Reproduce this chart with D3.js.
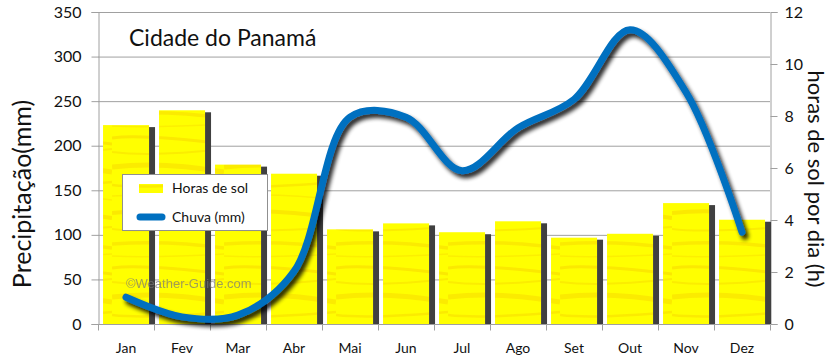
<!DOCTYPE html>
<html><head><meta charset="utf-8">
<script src="https://cdn.jsdelivr.net/npm/d3@7"></script>
<style>body{margin:0;background:#fff}svg{display:block}</style>
</head><body><svg id="c" width="840" height="360"></svg>
<script>
const months=["Jan","Fev","Mar","Abr","Mai","Jun","Jul","Ago","Set","Out","Nov","Dez"];
const sunHours=[7.65,8.22,6.13,5.78,3.64,3.87,3.53,3.95,3.32,3.47,4.65,4.01];
const rainMm=[30,8,10,59,232,232,172,220,252,330,260,103];
const leftTicks=[0,50,100,150,200,250,300,350];
const rightTicks=[0,2,4,6,8,10,12];
const title="Cidade do Panamá";
const leftTitle="Precipitação(mm)";
const rightTitle="horas de sol por dia (h)";
const legendLabels=["Horas de sol","Chuva (mm)"];
const watermark="©Weather-Guide.com";

const FONT="Lato, 'Noto Sans', sans-serif";
const svg=d3.select("#c");
const L=98,R=770,T=12,B=324;
const x=d3.scaleBand().domain(months).range([L,R]).padding(0);
const yL=d3.scaleLinear().domain([0,350]).range([B,T]);
const yR=d3.scaleLinear().domain([0,12]).range([B,T]);
const bw=x.bandwidth();

const defs=svg.append("defs");
const pat=defs.append("pattern").attr("id","tex").attr("patternUnits","userSpaceOnUse")
  .attr("width",112).attr("height",130);
pat.append("rect").attr("width",112).attr("height",130).attr("fill","#ffff00");
[["M0 8 Q30 4 112 14",3,0.28],["M0 22 Q40 27 112 19",2,0.22],["M0 37 Q50 31 112 42",5,0.25],
 ["M0 55 Q35 59 112 52",2.5,0.25],["M0 66 Q60 63 112 70",1.5,0.2],["M0 83 Q45 78 112 88",4,0.28],
 ["M0 99 Q30 103 112 97",2,0.22],["M0 114 Q55 110 112 118",3.5,0.25],["M0 126 Q40 128 112 124",1.5,0.2]]
  .forEach(s=>pat.append("path").attr("d",s[0]).attr("stroke","#eeae00").attr("stroke-width",s[1]).attr("fill","none").attr("opacity",s[2]));
const f=defs.append("filter").attr("id","sh").attr("x","-10%").attr("y","-10%").attr("width","130%").attr("height","130%");
f.append("feGaussianBlur").attr("in","SourceAlpha").attr("stdDeviation",2).attr("result","b");
f.append("feOffset").attr("in","b").attr("dx",3).attr("dy",4).attr("result","o");
f.append("feComponentTransfer").attr("in","o").attr("result","o2").append("feFuncA").attr("type","linear").attr("slope",0.85);
const fm=f.append("feMerge");fm.append("feMergeNode").attr("in","o2");fm.append("feMergeNode").attr("in","SourceGraphic");

// gridlines
svg.append("g").selectAll("line").data(leftTicks.filter(d=>d>0)).join("line")
  .attr("x1",L).attr("x2",R).attr("y1",d=>yL(d)+0.5).attr("y2",d=>yL(d)+0.5)
  .attr("stroke","#a0a0a0").attr("stroke-width",1);

// left axis
const gl=svg.append("g").attr("transform",`translate(${L+0.5},0)`)
  .call(d3.axisLeft(yL).tickValues(leftTicks).tickSize(7).tickPadding(10));
// right axis
const gr=svg.append("g").attr("transform",`translate(${R+0.5},0)`)
  .call(d3.axisRight(yR).tickValues(rightTicks).tickSize(7).tickPadding(7));
// bottom axis
const gb=svg.append("g").attr("transform",`translate(0,${B+0.5})`)
  .call(d3.axisBottom(x).tickSize(0).tickPadding(19));
gb.selectAll(".tick line").remove();
gb.append("g").selectAll("line").data(months.concat(["_end"])).join("line")
  .attr("x1",(d,i)=>Math.round(L+i*bw)+0.5).attr("x2",(d,i)=>Math.round(L+i*bw)+0.5)
  .attr("y1",0).attr("y2",6).attr("stroke","#a0a0a0");
[gl,gr,gb].forEach(g=>{
  g.selectAll(".domain").attr("stroke","#a0a0a0");
  g.selectAll(".tick line").attr("stroke","#a0a0a0");
  g.selectAll("text").attr("font-family",FONT).attr("fill","#111");
});
gl.selectAll("text").attr("font-size",16);
gr.selectAll("text").attr("font-size",16);
gb.selectAll("text").attr("font-size",14);
gb.select(".domain").attr("d",`M${L},0H${R}`);

// bars
const bars=svg.append("g");
bars.selectAll("rect.s").data(months).join("rect").attr("class","s")
  .attr("x",m=>x(m)+bw*0.09+46).attr("width",6)
  .attr("y",(m,i)=>yR(sunHours[i])+2).attr("height",(m,i)=>B-yR(sunHours[i])-2)
  .attr("fill","#404040");
bars.selectAll("rect.b").data(months).join("rect").attr("class","b")
  .attr("x",m=>x(m)+bw*0.09).attr("width",46)
  .attr("y",(m,i)=>yR(sunHours[i])).attr("height",(m,i)=>B-yR(sunHours[i]))
  .attr("fill","url(#tex)");

// watermark
svg.append("text").attr("x",126).attr("y",288).text(watermark)
  .attr("font-family","Arial, 'Liberation Sans', sans-serif").attr("font-size",13)
  .attr("fill","#777").attr("opacity",0.7);

// legend
const lg=svg.append("g");
lg.append("rect").attr("x",122.5).attr("y",174.5).attr("width",145).attr("height",56)
  .attr("fill","#fff").attr("stroke","#909090");
lg.append("rect").attr("x",139).attr("y",184).attr("width",24).attr("height",9).attr("fill","url(#tex)");
lg.append("line").attr("x1",140).attr("x2",162).attr("y1",217).attr("y2",217)
  .attr("stroke","#0070c0").attr("stroke-width",7).attr("stroke-linecap","round");
lg.selectAll("text").data(legendLabels).join("text")
  .attr("x",172).attr("y",(d,i)=>193+i*29).text(d=>d)
  .attr("font-family",FONT).attr("font-size",14).attr("fill","#111");

// line
const line=d3.line().x((d,i)=>x(months[i])+bw/2).y(d=>yL(d)).curve(d3.curveCatmullRom.alpha(0.5));
svg.append("path").datum(rainMm).attr("d",line).attr("fill","none")
  .attr("stroke","#0070c0").attr("stroke-width",7).attr("stroke-linecap","round")
  .attr("filter","url(#sh)");

// titles
svg.append("text").attr("x",129).attr("y",46).text(title)
  .attr("font-family",FONT).attr("font-size",23).attr("fill","#111");
svg.append("text").attr("transform","translate(31,194) rotate(-90)").attr("text-anchor","middle")
  .text(leftTitle).attr("font-family",FONT).attr("font-size",25).attr("fill","#111");
svg.append("text").attr("transform","translate(808,179) rotate(90)").attr("text-anchor","middle")
  .text(rightTitle).attr("font-family",FONT).attr("font-size",22).attr("fill","#111");
</script></body></html>
